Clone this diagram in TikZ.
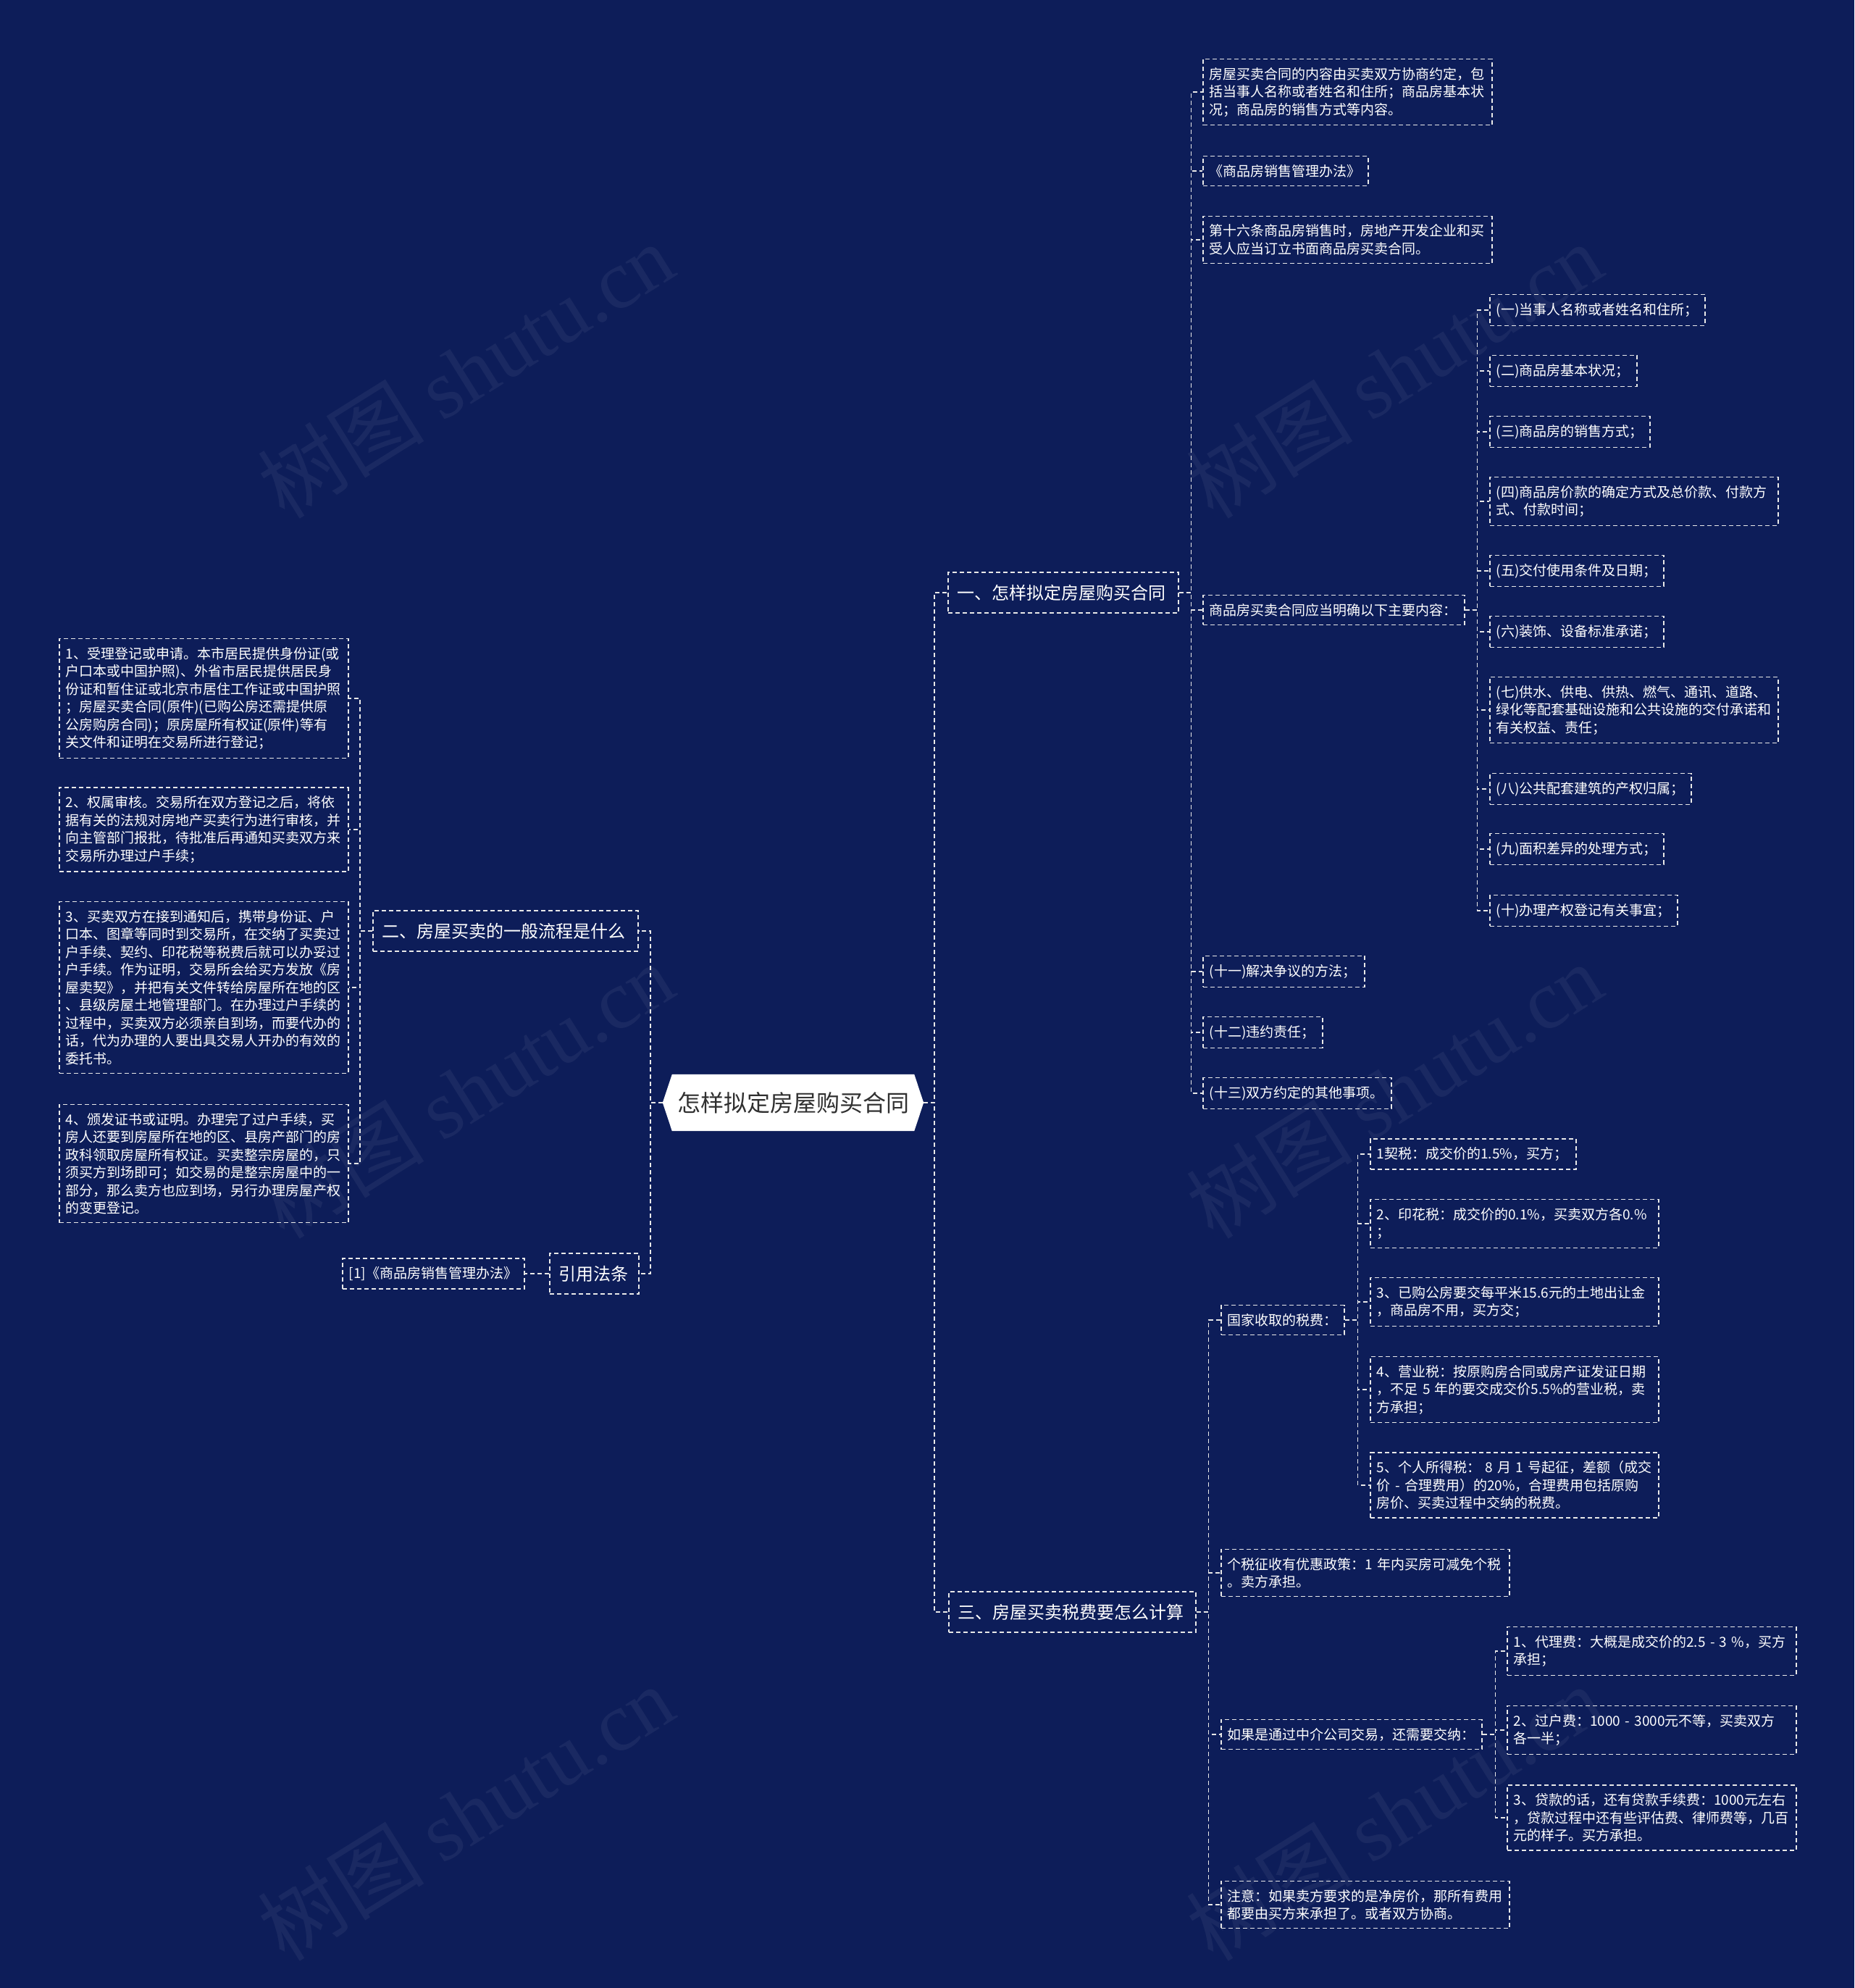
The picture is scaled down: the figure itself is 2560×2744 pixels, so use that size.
\documentclass[tikz,border=0pt]{standalone}
\usepackage{fontspec}
\setmainfont{Noto Sans CJK SC}
\newfontfamily\wmserif{Liberation Serif}
\usetikzlibrary{backgrounds,calc}
\definecolor{bgc}{HTML}{0D1D59}
\definecolor{linec}{HTML}{E8E8E8}
\definecolor{roottext}{HTML}{303030}
\tikzset{
  box/.style={draw=linec, line width=1.5pt, dash pattern=on 6pt off 4pt, text=white, align=left, anchor=west, inner xsep=9pt, inner ysep=11.5pt, font=\fontsize{19}{24.5}\selectfont},
  branch/.style={draw=linec, line width=1.5pt, dash pattern=on 6pt off 4pt, text=white, align=left, anchor=west, inner xsep=13pt, inner ysep=17pt, font=\fontsize{24}{30}\selectfont},
  conn/.style={draw=linec, line width=1.5pt, dash pattern=on 6pt off 4pt},
  rootnode/.style={minimum width=360pt, minimum height=78pt, inner sep=0pt, text=roottext, font=\fontsize{32}{36}\selectfont},
  wm/.style={text=white, opacity=0.055, rotate=32, font=\fontsize{115}{115}\selectfont},
}
\begin{document}
\begin{tikzpicture}[x=1pt,y=-1pt]
\useasboundingbox (0,0) rectangle (2560,2744);
\begin{scope}[on background layer]
\fill[bgc] (0,0) rectangle (2560,2744);
\end{scope}

% root
\node[rootnode] (root) at (1095,1522) {怎样拟定房屋购买合同};
\begin{scope}[on background layer]
\node[wm] (wm1) at (643,511) {树图 {\wmserif shutu.cn}};
\node[wm] (wm2) at (1925,511) {树图 {\wmserif shutu.cn}};
\node[wm] (wm3) at (643,1505) {树图 {\wmserif shutu.cn}};
\node[wm] (wm4) at (1925,1505) {树图 {\wmserif shutu.cn}};
\node[wm] (wm5) at (643,2502) {树图 {\wmserif shutu.cn}};
\node[wm] (wm6) at (1925,2502) {树图 {\wmserif shutu.cn}};
\fill[white] ($(root.north west)+(13,0)$) -- ($(root.north east)+(-13,0)$) -- (root.east) -- ($(root.south east)+(-13,0)$) -- ($(root.south west)+(13,0)$) -- (root.west) -- cycle;
\end{scope}

% branches
\node[branch, text width=292pt] (b1) at (1308,818) {一、怎样拟定房屋购买合同};
\node[branch, text width=315pt] (b3) at (1309,2225) {三、房屋买卖税费要怎么计算};
\node[branch, text width=340pt] (b2) at (514,1285) {二、房屋买卖的一般流程是什么};
\node[branch, text width=97pt] (cite) at (758,1758) {引用法条};

% branch 1 children
\node[box, text width=381pt] (n1a) at (1660,127) {房屋买卖合同的内容由买卖双方协商约定，包\\括当事人名称或者姓名和住所；商品房基本状\\况；商品房的销售方式等内容。};
\node[box, text width=210pt] (n1b) at (1660,236) {《商品房销售管理办法》};
\node[box, text width=381pt] (n1c) at (1660,331) {第十六条商品房销售时，房地产开发企业和买\\受人应当订立书面商品房买卖合同。};
\node[box, text width=343pt] (n1d) at (1660,842) {商品房买卖合同应当明确以下主要内容：};
\node[box, text width=205pt] (n1e) at (1660,1341) {(十一)解决争议的方法；};
\node[box, text width=147pt] (n1f) at (1660,1425) {(十二)违约责任；};
\node[box, text width=242pt] (n1g) at (1660,1509) {(十三)双方约定的其他事项。};

\node[box, text width=279pt] (s1) at (2056,428) {(一)当事人名称或者姓名和住所；};
\node[box, text width=185pt] (s2) at (2056,512) {(二)商品房基本状况；};
\node[box, text width=203pt] (s3) at (2056,596) {(三)商品房的销售方式；};
\node[box, text width=380pt] (s4) at (2056,692) {(四)商品房价款的确定方式及总价款、付款方\\式、付款时间；};
\node[box, text width=222pt] (s5) at (2056,788) {(五)交付使用条件及日期；};
\node[box, text width=222pt] (s6) at (2056,872) {(六)装饰、设备标准承诺；};
\node[box, text width=380pt] (s7) at (2056,980) {(七)供水、供电、供热、燃气、通讯、道路、\\绿化等配套基础设施和公共设施的交付承诺和\\有关权益、责任；};
\node[box, text width=260pt] (s8) at (2056,1089) {(八)公共配套建筑的产权归属；};
\node[box, text width=222pt] (s9) at (2056,1172) {(九)面积差异的处理方式；};
\node[box, text width=241pt] (s10) at (2056,1257) {(十)办理产权登记有关事宜；};

% branch 3 children
\node[box, text width=152pt] (n3a) at (1685,1822) {国家收取的税费：};
\node[box, text width=380pt] (n3b) at (1685,2171) {个税征收有优惠政策：1~年内买房可减免个税\\。卖方承担。};
\node[box, text width=342pt] (n3c) at (1685,2394) {如果是通过中介公司交易，还需要交纳：};
\node[box, text width=380pt] (n3d) at (1685,2629) {注意：如果卖方要求的是净房价，那所有费用\\都要由买方来承担了。或者双方协商。};

\node[box, text width=266pt] (t1) at (1891,1593) {1契税：成交价的1.5\%，买方；};
\node[box, text width=380pt] (t2) at (1891,1689) {2、印花税：成交价的0.1\%，买卖双方各0.\%\\；};
\node[box, text width=380pt] (t3) at (1891,1797) {3、已购公房要交每平米15.6元的土地出让金\\，商品房不用，买方交；};
\node[box, text width=380pt] (t4) at (1891,1918) {4、营业税：按原购房合同或房产证发证日期\\，不足~5~年的要交成交价5.5\%的营业税，卖\\方承担；};
\node[box, text width=380pt] (t5) at (1891,2050) {5、个人所得税：~8~月~1~号起征，差额（成交\\价~-~合理费用）的20\%，合理费用包括原购\\房价、买卖过程中交纳的税费。};

\node[box, text width=381pt] (u1) at (2080,2279) {1、代理费：大概是成交价的2.5~-~3~\%，买方\\承担；};
\node[box, text width=381pt] (u2) at (2080,2388) {2、过户费：1000~-~3000元不等，买卖双方\\各一半；};
\node[box, text width=381pt] (u3) at (2080,2509) {3、贷款的话，还有贷款手续费：1000元左右\\，贷款过程中还有些评估费、律师费等，几百\\元的样子。买方承担。};

% branch 2 children
\node[box, text width=381pt] (L1) at (81,964) {1、受理登记或申请。本市居民提供身份证(或\\户口本或中国护照)、外省市居民提供居民身\\份证和暂住证或北京市居住工作证或中国护照\\；房屋买卖合同(原件)(已购公房还需提供原\\公房购房合同)；原房屋所有权证(原件)等有\\关文件和证明在交易所进行登记；};
\node[box, text width=381pt] (L2) at (81,1145) {2、权属审核。交易所在双方登记之后，将依\\据有关的法规对房地产买卖行为进行审核，并\\向主管部门报批，待批准后再通知买卖双方来\\交易所办理过户手续；};
\node[box, text width=381pt] (L3) at (81,1363) {3、买卖双方在接到通知后，携带身份证、户\\口本、图章等同时到交易所，在交纳了买卖过\\户手续、契约、印花税等税费后就可以办妥过\\户手续。作为证明，交易所会给买方发放《房\\屋卖契》，并把有关文件转给房屋所在地的区\\、县级房屋土地管理部门。在办理过户手续的\\过程中，买卖双方必须亲自到场，而要代办的\\话，代为办理的人要出具交易人开办的有效的\\委托书。};
\node[box, text width=381pt] (L4) at (81,1606) {4、颁发证书或证明。办理完了过户手续，买\\房人还要到房屋所在地的区、县房产部门的房\\政科领取房屋所有权证。买卖整宗房屋的，只\\须买方到场即可；如交易的是整宗房屋中的一\\部分，那么卖方也应到场，另行办理房屋产权\\的变更登记。};

\node[box, text width=233pt] (ref1) at (472,1758) {[1]《商品房销售管理办法》};

% connectors: root
\draw[conn] (root.east) -- ++(15,0) |- (b1.west);
\draw[conn] (root.east) -- ++(15,0) |- (b3.west);
\draw[conn] (root.west) -- ++(-17,0) |- (b2.east);
\draw[conn] (root.west) -- ++(-17,0) |- (cite.east);
\draw[conn] (cite.west) -- (ref1.east);

% branch 1
\foreach \c in {n1a,n1b,n1c,n1d,n1e,n1f,n1g}
  \draw[conn] (b1.east) -- ++(17,0) |- (\c.west);
\foreach \c in {s1,s2,s3,s4,s5,s6,s7,s8,s9,s10}
  \draw[conn] (n1d.east) -- ++(17,0) |- (\c.west);

% branch 3
\foreach \c in {n3a,n3b,n3c,n3d}
  \draw[conn] (b3.east) -- ++(17,0) |- (\c.west);
\foreach \c in {t1,t2,t3,t4,t5}
  \draw[conn] (n3a.east) -- ++(18,0) |- (\c.west);
\foreach \c in {u1,u2,u3}
  \draw[conn] (n3c.east) -- ++(18,0) |- (\c.west);

% branch 2
\foreach \c in {L1,L2,L3,L4}
  \draw[conn] (b2.west) -- ++(-17,0) |- (\c.east);
\end{tikzpicture}
\end{document}
